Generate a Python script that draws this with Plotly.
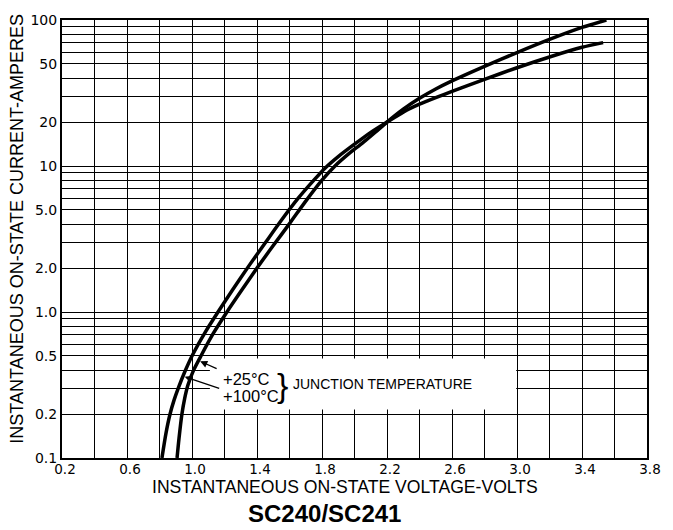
import math
import plotly.graph_objects as go

# ---- data ----
volts_100C = [0.815, 0.84, 0.865, 0.89, 0.915, 0.955, 1.0, 1.08, 1.16, 1.25, 1.35, 1.45,
              1.55, 1.65, 1.75, 1.82, 1.9, 2.0, 2.1, 2.2, 2.3, 2.4, 2.5, 2.6, 2.8, 3.0, 3.2,
              3.4, 3.53]
amps_100C = [0.1, 0.148, 0.2, 0.25, 0.3, 0.388, 0.5, 0.723, 1.0, 1.42, 2.07, 2.97,
             4.25, 5.95, 8.0, 9.7, 11.6, 14.1, 17.0, 20, 23.4, 26.5, 29.4, 32.4, 39.2, 47.1, 55.8,
             65, 70]

volts_25C = [0.908, 0.92, 0.938, 0.955, 0.975, 1.01, 1.055, 1.13, 1.215, 1.3, 1.4, 1.5,
             1.6, 1.7, 1.8, 1.88, 1.96, 2.05, 2.13, 2.2, 2.3, 2.4, 2.5, 2.6, 2.8, 3.0, 3.2,
             3.4, 3.55]
amps_25C = [0.1, 0.136, 0.2, 0.256, 0.316, 0.4, 0.5, 0.71, 1.0, 1.38, 2.0, 2.85,
            4.03, 5.75, 8.0, 10.0, 12.0, 14.4, 17.1, 20, 24.5, 29.1, 33.7, 38.3, 48.2, 59.8, 73.6,
            88.9, 100]

x_tickvals = [0.2, 0.4, 0.6, 0.8, 1.0, 1.2, 1.4, 1.6, 1.8, 2.0, 2.2, 2.4, 2.6, 2.8,
              3.0, 3.2, 3.4, 3.6, 3.8]
x_ticktext = ["0.2", "", "0.6", "", "1.0", "", "1.4", "", "1.8", "", "2.2", "", "2.6", "",
              "3.0", "", "3.4", "", "3.8"]

y_tickvals = [0.1, 0.2, 0.3, 0.4, 0.5, 0.6, 0.7, 0.8, 0.9,
              1, 2, 3, 4, 5, 6, 7, 8, 9,
              10, 20, 30, 40, 50, 60, 70, 80, 90, 100]
y_ticktext = ["0.1", "0.2", "", "", "0.5", "", "", "", "",
              "1.0", "2.0", "", "", "5.0", "", "", "", "",
              "10", "20", "", "", "50", "", "", "", "", "100"]

FONT = "Liberation Sans, Arial, sans-serif"
TICKFONT = "DejaVu Sans, sans-serif"

fig = go.Figure()
fig.add_trace(go.Scatter(x=volts_100C, y=amps_100C, mode="lines",
                         line=dict(color="black", width=3.5, shape="spline", smoothing=0.7),
                         name="+100°C", showlegend=False))
fig.add_trace(go.Scatter(x=volts_25C, y=amps_25C, mode="lines",
                         line=dict(color="black", width=3.5, shape="spline", smoothing=0.7),
                         name="+25°C", showlegend=False))

fig.update_layout(
    width=673, height=530,
    margin=dict(l=62, r=16, t=14, b=72),
    paper_bgcolor="white", plot_bgcolor="white",
    showlegend=False,
    font=dict(family=FONT, color="black"),
)

fig.update_xaxes(range=[0.2, 3.8], tickmode="array", tickvals=x_tickvals, ticktext=x_ticktext,
                 showgrid=True, gridcolor="black", gridwidth=1.3, zeroline=False,
                 showline=True, mirror=True, linecolor="black", linewidth=2,
                 ticks="", ticklabelshift=3, ticklabelstandoff=-2,
                 tickfont=dict(family=TICKFONT, size=13.5, color="black"))
fig.update_yaxes(type="log", range=[-1, 2], tickmode="array", tickvals=y_tickvals, ticktext=y_ticktext,
                 showgrid=True, gridcolor="black", gridwidth=1.3, zeroline=False,
                 showline=True, mirror=True, linecolor="black", linewidth=2,
                 ticks="",
                 tickfont=dict(family=TICKFONT, size=14, color="black"))

# white label box that interrupts the grid
fig.add_shape(type="rect", xref="x", yref="y", x0=1.11, x1=2.995, y0=0.215, y1=0.48,
              fillcolor="white", line=dict(width=0), layer="between")

# axis titles / caption
fig.add_annotation(text="INSTANTANEOUS ON-STATE CURRENT-AMPERES", xref="paper", yref="paper",
                   x=0, y=0.5225, xshift=-44.5, textangle=-90, showarrow=False,
                   xanchor="center", yanchor="middle", font=dict(size=18, family=FONT))
fig.add_annotation(text="INSTANTANEOUS ON-STATE VOLTAGE-VOLTS", xref="paper", yref="paper",
                   x=0.483, y=0, yshift=-29, showarrow=False, borderpad=0,
                   xanchor="center", yanchor="middle", font=dict(size=17.6, family=FONT))
fig.add_annotation(text="<b>SC240/SC241</b>", xref="paper", yref="paper",
                   x=0.449, y=0, yshift=-55, showarrow=False,
                   xanchor="center", yanchor="middle", font=dict(size=24, family=FONT))

# temperature labels
fig.add_annotation(text="+25°C", xref="paper", yref="paper", x=(224 - 62) / 595, y=(458 - 378) / 444,
                   showarrow=False, xanchor="left", yanchor="middle", font=dict(size=16.5, family=FONT))
fig.add_annotation(text="+100°C", xref="paper", yref="paper", x=(224 - 62) / 595, y=(458 - 395) / 444,
                   showarrow=False, xanchor="left", yanchor="middle", font=dict(size=16.5, family=FONT))
fig.add_annotation(text="}", xref="paper", yref="paper", x=(286 - 62) / 595, y=(458 - 384) / 444,
                   showarrow=False, xanchor="center", yanchor="middle", font=dict(size=34, family=FONT))
fig.add_annotation(text="JUNCTION TEMPERATURE", xref="paper", yref="paper", x=(295 - 62) / 595,
                   y=(458 - 383) / 444, showarrow=False, xanchor="left", yanchor="middle",
                   font=dict(size=14, family=FONT))

# arrows (annotation y on a log axis is given as log10)
fig.add_annotation(text="", x=1.05, y=math.log10(0.46), xref="x", yref="y", ax=18, ay=8,
                   showarrow=True, arrowhead=2, arrowsize=1.1, arrowwidth=1.3, arrowcolor="black")
fig.add_annotation(text="", x=0.955, y=math.log10(0.36), xref="x", yref="y", ax=36, ay=12,
                   showarrow=True, arrowhead=2, arrowsize=1.1, arrowwidth=1.3, arrowcolor="black")

fig.write_html("out.html")
